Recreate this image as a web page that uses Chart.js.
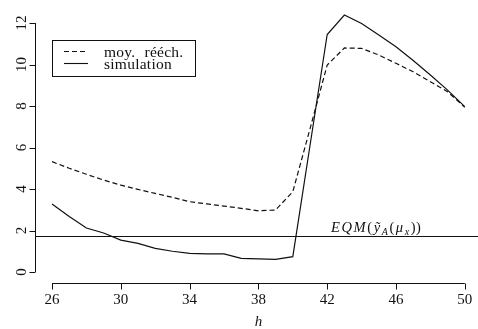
<!DOCTYPE html>
<html>
<head>
<meta charset="utf-8">
<script src="https://cdn.jsdelivr.net/npm/chart.js@4.4.1/dist/chart.umd.min.js"></script>
<style>
  html, body { margin: 0; padding: 0; background: #fff; }
  #wrap { width: 478px; height: 329px; }
</style>
</head>
<body>
<div id="wrap"><canvas id="c" width="478" height="329"></canvas></div>
<script>
// Horizon h and the two error curves
const hValues = [26, 27, 28, 29, 30, 31, 32, 33, 34, 35, 36, 37, 38,
                 39, 40, 41, 42, 43, 44, 45, 46, 47, 48, 49, 50];
const moyReech = [5.32, 5.00, 4.71, 4.43, 4.19, 3.98, 3.79, 3.60, 3.39, 3.28, 3.18, 3.07, 2.95,
                  2.99, 3.87, 6.90, 9.98, 10.80, 10.78, 10.46, 10.06, 9.65, 9.17, 8.69, 7.94];
const simulation = [3.28, 2.68, 2.12, 1.88, 1.54, 1.38, 1.14, 1.00, 0.90, 0.87, 0.87, 0.66, 0.63,
                    0.61, 0.74, 6.10, 11.45, 12.39, 11.98, 11.42, 10.86, 10.20, 9.50, 8.77, 7.97];
// Reference level EQM(ỹ_A(μ_x))
const eqmLevel = 1.75;

// Axis ticks
const xTicks = [26, 30, 34, 38, 42, 46, 50];
const yTicks = [0, 2, 4, 6, 8, 10, 12];
const seriesNames = ['moy. rééch.', 'simulation'];

const SERIF = '"Liberation Serif", "DejaVu Serif", serif';
const DASH = [5, 3];

const toPoints = (ys) => hValues.map((h, i) => ({ x: h, y: ys[i] }));

// Base-graphics style axes, legend box and annotation
const rStyle = {
  id: 'rStyle',
  beforeDatasetsDraw(chart) {
    const { ctx, scales: { y }, chartArea: a } = chart;
    const py = Math.round(y.getPixelForValue(eqmLevel)) + 0.5;
    ctx.save();
    ctx.strokeStyle = '#111';
    ctx.lineWidth = 1.1;
    ctx.beginPath();
    ctx.moveTo(a.left, py);
    ctx.lineTo(chart.width, py);
    ctx.stroke();
    ctx.restore();
  },
  afterDraw(chart) {
    const { ctx, scales: { x, y }, chartArea: a } = chart;
    ctx.save();
    ctx.strokeStyle = '#111';
    ctx.fillStyle = '#111';
    ctx.lineWidth = 1;

    // y axis
    const ax = Math.round(a.left) + 0.5;
    ctx.beginPath();
    ctx.moveTo(ax, y.getPixelForValue(yTicks[0]));
    ctx.lineTo(ax, y.getPixelForValue(yTicks[yTicks.length - 1]));
    yTicks.forEach(v => {
      const p = Math.round(y.getPixelForValue(v)) + 0.5;
      ctx.moveTo(ax, p);
      ctx.lineTo(ax - 6, p);
    });
    ctx.stroke();
    ctx.font = '15px ' + SERIF;
    ctx.textAlign = 'center';
    ctx.textBaseline = 'alphabetic';
    yTicks.forEach(v => {
      const p = y.getPixelForValue(v);
      ctx.save();
      ctx.translate(26, p);
      ctx.rotate(-Math.PI / 2);
      ctx.fillText(String(v), 0, 0);
      ctx.restore();
    });

    // x axis
    const ay = Math.round(a.bottom) + 0.5;
    ctx.beginPath();
    ctx.moveTo(x.getPixelForValue(xTicks[0]), ay);
    ctx.lineTo(x.getPixelForValue(xTicks[xTicks.length - 1]), ay);
    xTicks.forEach(v => {
      const p = Math.round(x.getPixelForValue(v)) + 0.5;
      ctx.moveTo(p, ay);
      ctx.lineTo(p, ay + 6);
    });
    ctx.stroke();
    xTicks.forEach(v => {
      ctx.fillText(String(v), x.getPixelForValue(v), 304);
    });
    ctx.font = 'italic 15px ' + SERIF;
    ctx.fillText('h', x.getPixelForValue(38), 326);

    // legend
    ctx.lineWidth = 1;
    ctx.strokeRect(52.5, 40.5, 143, 36);
    const rows = [{ y: 51.5, dash: DASH }, { y: 63.5, dash: [] }];
    rows.forEach((r, i) => {
      ctx.setLineDash(r.dash);
      ctx.lineWidth = 1.1;
      ctx.beginPath();
      ctx.moveTo(64, r.y);
      ctx.lineTo(88, r.y);
      ctx.stroke();
      ctx.setLineDash([]);
      ctx.font = '15.5px ' + SERIF;
      ctx.letterSpacing = '0.25px';
      ctx.wordSpacing = '5px';
      ctx.textAlign = 'left';
      ctx.fillText(seriesNames[i], 104, r.y + 5.5);
    });
    ctx.wordSpacing = '0px';

    // label of the reference level
    ctx.letterSpacing = '1.6px';
    let tx = 331;
    const by = 231.5;
    const put = (s, font, dy) => {
      ctx.font = font;
      ctx.fillText(s, tx, by + (dy || 0));
      tx += ctx.measureText(s).width;
    };
    const it = 'italic 14.5px ' + SERIF;
    const rm = '14.5px ' + SERIF;
    const sub = 'italic 10px ' + SERIF;
    put('EQM', it);
    put('(', rm);
    put('\u1EF9', it);
    put('A', sub, 3);
    put('(', rm);
    put('\u03BC', it);
    put('x', sub, 3);
    ctx.letterSpacing = '0.5px';
    put('))', rm);
    ctx.letterSpacing = '0px';

    ctx.restore();
  }
};

new Chart(document.getElementById('c'), {
  type: 'line',
  data: {
    datasets: [
      {
        label: seriesNames[0],
        data: toPoints(moyReech),
        borderColor: '#111',
        borderWidth: 1.2,
        borderDash: DASH,
        pointRadius: 0,
        tension: 0,
        fill: false
      },
      {
        label: seriesNames[1],
        data: toPoints(simulation),
        borderColor: '#111',
        borderWidth: 1.2,
        pointRadius: 0,
        tension: 0,
        fill: false
      }
    ]
  },
  options: {
    responsive: false,
    animation: false,
    layout: { padding: { left: 35, right: 1, top: 4, bottom: 46.5 } },
    scales: {
      x: { type: 'linear', min: 25.01, max: 50.71, display: false },
      y: { type: 'linear', min: -0.506, max: 12.92, display: false }
    },
    plugins: { legend: { display: false }, tooltip: { enabled: false } }
  },
  plugins: [rStyle]
});
</script>
</body>
</html>
